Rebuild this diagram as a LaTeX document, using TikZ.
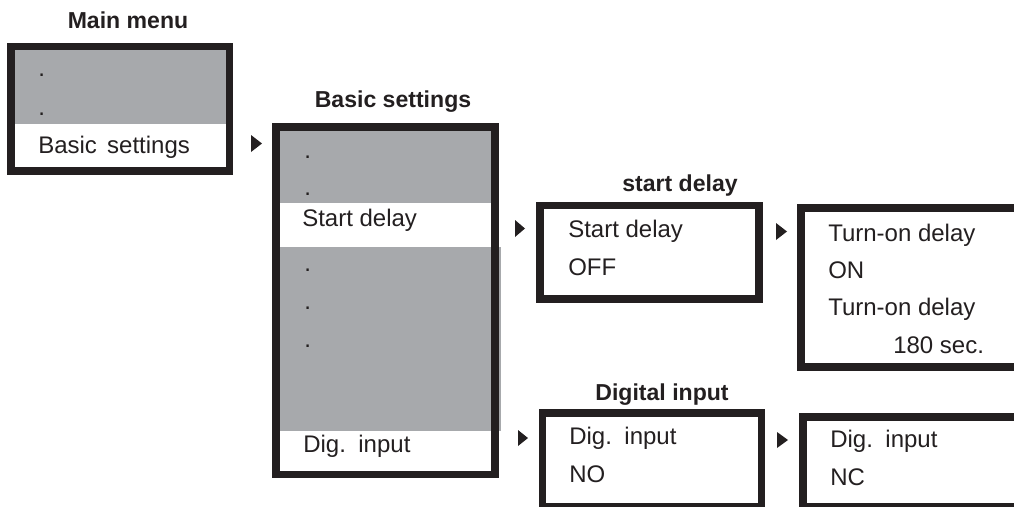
\documentclass[tikz,border=0pt]{standalone}
\usepackage{fontspec}
\setmainfont{Liberation Sans}
\usepackage{xcolor}
\usetikzlibrary{shapes.geometric, arrows}

\definecolor{menugray}{RGB}{167,169,172}
\definecolor{frameblack}{RGB}{35,31,32}

\tikzset{
    frame/.style={draw=frameblack, line width=5.6pt},
    shade/.style={fill=menugray},
    entry/.style={anchor=base west, inner sep=0pt, font=\fontsize{18pt}{21pt}\selectfont, text=frameblack},
    title/.style={anchor=base, inner sep=0pt, font=\fontsize{17.3pt}{20pt}\selectfont\bfseries, text=frameblack},
    pointer/.style={fill=frameblack}
}

\begin{document}
\begin{tikzpicture}[x=0.75pt, y=-0.75pt]
    \clip (0,0) rectangle (1014,507);

    % titles
    \node[title] (tmain) at (128,28) {Main menu};
    \node[title] (tbasic) at (393,107) {Basic settings};
    \node[title] (tstart) at (680,191) {start delay};
    \node[title] (tdig) at (662,400) {Digital input};

    % main menu
    \fill[shade] (15,50) rectangle (227,124);
    \draw[frame] (11,46.5) rectangle (229.5,171);
    \node[entry] (m1) at (38,76) {.};
    \node[entry] (m2) at (38,115) {.};
    \node[entry] (m3) at (38,153) {Basic\hspace{0.15em} settings};

    % basic settings
    \fill[shade] (280,131) rectangle (491,203);
    \fill[shade] (280,247) rectangle (501,431);
    \draw[frame] (276,127) rectangle (495,474.5);
    \node[entry] (b1) at (304,158) {.};
    \node[entry] (b2) at (304,195) {.};
    \node[entry] (b3) at (302,226) {Start delay};
    \node[entry] (b4) at (304,271) {.};
    \node[entry] (b5) at (304,309) {.};
    \node[entry] (b6) at (304,347) {.};
    \node[entry] (b7) at (303,452) {Dig.\hspace{0.15em} input};

    % start delay
    \draw[frame] (540,205.5) rectangle (759,299);
    \node[entry] (s1) at (568,237) {Start delay};
    \node[entry] (s2) at (568,275) {OFF};

    \draw[frame] (801,208) rectangle (1030,367);
    \node[entry] (d1) at (828,241) {Turn-on delay};
    \node[entry] (d2) at (828,278) {ON};
    \node[entry] (d3) at (828,315) {Turn-on delay};
    \node[entry] (d4) at (893,353) {180 sec.};

    % digital input
    \draw[frame] (542.5,413) rectangle (761.5,507);
    \node[entry] (i1) at (569,444) {Dig.\hspace{0.15em} input};
    \node[entry] (i2) at (569,482) {NO};

    \draw[frame] (803,417) rectangle (1030,507);
    \node[entry] (n1) at (830,447) {Dig.\hspace{0.15em} input};
    \node[entry] (n2) at (830,485) {NC};

    % pointers
    \fill[pointer] (251,135) -- (251,152) -- (262,143.5) -- cycle;
    \fill[pointer] (515,220) -- (515,237) -- (525,228.5) -- cycle;
    \fill[pointer] (776,223) -- (776,240) -- (787,231.5) -- cycle;
    \fill[pointer] (518,430) -- (518,446) -- (528,438) -- cycle;
    \fill[pointer] (777,432) -- (777,448) -- (788,440) -- cycle;

\end{tikzpicture}
\end{document}
